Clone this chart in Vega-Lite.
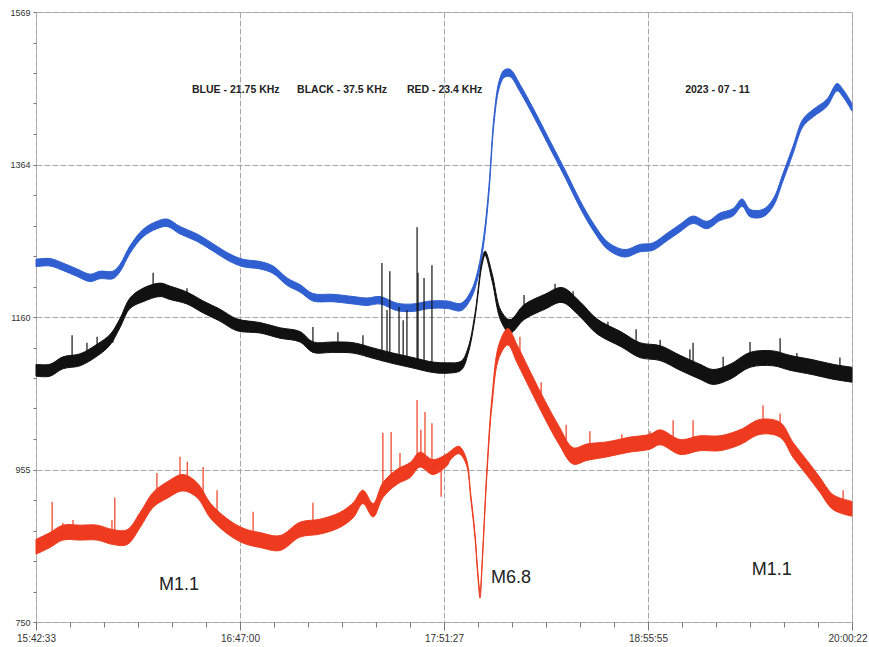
{
  "$schema": "https://vega.github.io/schema/vega-lite/v6.json",
  "width": 816,
  "height": 610,
  "autosize": {"type": "none"},
  "padding": {"left": 36, "top": 12, "right": 17, "bottom": 25},
  "background": "white",
  "config": {
    "view": {"stroke": "#bdbdbd", "strokeWidth": 1},
    "font": "Liberation Sans"
  },
  "datasets": {
    "blue": [
      {"t": 0, "lo": 1227, "hi": 1237}, {"t": 4.4, "lo": 1228, "hi": 1238}, {"t": 8.5, "lo": 1222, "hi": 1232},
      {"t": 13.0, "lo": 1214, "hi": 1224}, {"t": 17.1, "lo": 1207, "hi": 1217}, {"t": 20.2, "lo": 1211, "hi": 1221},
      {"t": 24.3, "lo": 1211, "hi": 1221}, {"t": 26.5, "lo": 1220, "hi": 1230}, {"t": 29.7, "lo": 1245, "hi": 1255},
      {"t": 33.8, "lo": 1267, "hi": 1277}, {"t": 38.2, "lo": 1278, "hi": 1288}, {"t": 41.4, "lo": 1281, "hi": 1291},
      {"t": 45.5, "lo": 1271, "hi": 1281}, {"t": 50.9, "lo": 1261, "hi": 1271}, {"t": 55.9, "lo": 1248, "hi": 1258},
      {"t": 61.3, "lo": 1234, "hi": 1244}, {"t": 65.4, "lo": 1227, "hi": 1237}, {"t": 70.8, "lo": 1224, "hi": 1234},
      {"t": 74.9, "lo": 1218, "hi": 1228}, {"t": 79.3, "lo": 1202, "hi": 1212}, {"t": 83.4, "lo": 1193, "hi": 1203},
      {"t": 87.5, "lo": 1181, "hi": 1191}, {"t": 93.8, "lo": 1180, "hi": 1190}, {"t": 100.2, "lo": 1177, "hi": 1187},
      {"t": 104.6, "lo": 1175, "hi": 1185}, {"t": 108.7, "lo": 1177, "hi": 1187}, {"t": 114.1, "lo": 1168, "hi": 1178},
      {"t": 119.1, "lo": 1167, "hi": 1177}, {"t": 124.5, "lo": 1171, "hi": 1181}, {"t": 129.9, "lo": 1171, "hi": 1181},
      {"t": 134.3, "lo": 1168, "hi": 1178}, {"t": 137.4, "lo": 1184, "hi": 1194}, {"t": 139.6, "lo": 1212, "hi": 1222},
      {"t": 141.5, "lo": 1259, "hi": 1269}, {"t": 143.1, "lo": 1325, "hi": 1335}, {"t": 144.7, "lo": 1419, "hi": 1429},
      {"t": 146.3, "lo": 1466, "hi": 1476}, {"t": 147.9, "lo": 1481, "hi": 1491}, {"t": 149.8, "lo": 1482, "hi": 1492},
      {"t": 152.9, "lo": 1462, "hi": 1472}, {"t": 157.3, "lo": 1428, "hi": 1438}, {"t": 163.0, "lo": 1381, "hi": 1391},
      {"t": 167.5, "lo": 1344, "hi": 1354}, {"t": 171.9, "lo": 1306, "hi": 1316}, {"t": 176.3, "lo": 1274, "hi": 1284},
      {"t": 180.7, "lo": 1250, "hi": 1260}, {"t": 186.1, "lo": 1240, "hi": 1250}, {"t": 190.8, "lo": 1247, "hi": 1257},
      {"t": 194.9, "lo": 1249, "hi": 1259}, {"t": 199.4, "lo": 1262, "hi": 1272}, {"t": 203.5, "lo": 1274, "hi": 1284},
      {"t": 207.6, "lo": 1285, "hi": 1295}, {"t": 212.0, "lo": 1278, "hi": 1288}, {"t": 216.1, "lo": 1289, "hi": 1299},
      {"t": 220.2, "lo": 1295, "hi": 1305}, {"t": 223.1, "lo": 1308, "hi": 1318}, {"t": 225.6, "lo": 1294, "hi": 1304},
      {"t": 229.7, "lo": 1294, "hi": 1304}, {"t": 232.9, "lo": 1308, "hi": 1318}, {"t": 236.0, "lo": 1342, "hi": 1352},
      {"t": 239.2, "lo": 1379, "hi": 1389}, {"t": 242.3, "lo": 1415, "hi": 1425}, {"t": 245.5, "lo": 1428, "hi": 1438},
      {"t": 249.9, "lo": 1442, "hi": 1452}, {"t": 253.1, "lo": 1463, "hi": 1473}, {"t": 255.0, "lo": 1455, "hi": 1465},
      {"t": 257.8, "lo": 1436, "hi": 1446}
    ],
    "black": [
      {"t": 0, "lo": 1080, "hi": 1096}, {"t": 4.4, "lo": 1080, "hi": 1096}, {"t": 8.5, "lo": 1090, "hi": 1106},
      {"t": 13.9, "lo": 1094, "hi": 1110}, {"t": 19.3, "lo": 1107, "hi": 1123}, {"t": 23.4, "lo": 1122, "hi": 1136},
      {"t": 26.5, "lo": 1145, "hi": 1157}, {"t": 29.7, "lo": 1171, "hi": 1185}, {"t": 33.8, "lo": 1180, "hi": 1198},
      {"t": 39.2, "lo": 1187, "hi": 1205}, {"t": 42.3, "lo": 1183, "hi": 1201}, {"t": 47.7, "lo": 1177, "hi": 1193},
      {"t": 52.8, "lo": 1165, "hi": 1181}, {"t": 58.1, "lo": 1154, "hi": 1170}, {"t": 63.5, "lo": 1141, "hi": 1157},
      {"t": 70.8, "lo": 1138, "hi": 1152}, {"t": 77.1, "lo": 1131, "hi": 1145}, {"t": 83.4, "lo": 1126, "hi": 1140},
      {"t": 87.5, "lo": 1112, "hi": 1126}, {"t": 93.8, "lo": 1112, "hi": 1126}, {"t": 100.2, "lo": 1111, "hi": 1125},
      {"t": 106.5, "lo": 1104, "hi": 1118}, {"t": 112.8, "lo": 1097, "hi": 1111}, {"t": 119.1, "lo": 1091, "hi": 1105},
      {"t": 125.4, "lo": 1085, "hi": 1099}, {"t": 129.9, "lo": 1084, "hi": 1098}, {"t": 134.3, "lo": 1088, "hi": 1100},
      {"t": 136.5, "lo": 1110, "hi": 1118}, {"t": 138.7, "lo": 1158, "hi": 1164}, {"t": 140.9, "lo": 1229, "hi": 1235},
      {"t": 141.9, "lo": 1242, "hi": 1248}, {"t": 144.1, "lo": 1208, "hi": 1218}, {"t": 146.9, "lo": 1154, "hi": 1168},
      {"t": 149.8, "lo": 1138, "hi": 1156}, {"t": 154.2, "lo": 1156, "hi": 1176}, {"t": 160.8, "lo": 1170, "hi": 1190},
      {"t": 166.2, "lo": 1179, "hi": 1199}, {"t": 171.9, "lo": 1160, "hi": 1180}, {"t": 177.2, "lo": 1137, "hi": 1157},
      {"t": 185.1, "lo": 1119, "hi": 1139}, {"t": 190.8, "lo": 1105, "hi": 1125}, {"t": 197.2, "lo": 1101, "hi": 1121},
      {"t": 203.5, "lo": 1088, "hi": 1108}, {"t": 209.8, "lo": 1076, "hi": 1096}, {"t": 213.9, "lo": 1069, "hi": 1089},
      {"t": 219.3, "lo": 1076, "hi": 1096}, {"t": 225.6, "lo": 1092, "hi": 1112}, {"t": 232.9, "lo": 1094, "hi": 1114},
      {"t": 238.2, "lo": 1088, "hi": 1108}, {"t": 245.5, "lo": 1082, "hi": 1102}, {"t": 251.8, "lo": 1076, "hi": 1096},
      {"t": 257.8, "lo": 1072, "hi": 1092}
    ],
    "red": [
      {"t": 0, "lo": 841, "hi": 861}, {"t": 4.4, "lo": 850, "hi": 870}, {"t": 8.5, "lo": 860, "hi": 880},
      {"t": 13.9, "lo": 860, "hi": 880}, {"t": 19.3, "lo": 860, "hi": 880}, {"t": 24.3, "lo": 854, "hi": 874},
      {"t": 28.8, "lo": 854, "hi": 874}, {"t": 32.9, "lo": 877, "hi": 897}, {"t": 37.0, "lo": 904, "hi": 924},
      {"t": 41.4, "lo": 916, "hi": 938}, {"t": 46.4, "lo": 926, "hi": 948}, {"t": 50.9, "lo": 917, "hi": 937},
      {"t": 55.0, "lo": 890, "hi": 910}, {"t": 59.1, "lo": 873, "hi": 893}, {"t": 63.5, "lo": 860, "hi": 880},
      {"t": 66.7, "lo": 854, "hi": 874}, {"t": 70.8, "lo": 850, "hi": 870}, {"t": 77.1, "lo": 846, "hi": 866},
      {"t": 83.4, "lo": 864, "hi": 884}, {"t": 89.7, "lo": 868, "hi": 888}, {"t": 96.0, "lo": 877, "hi": 897},
      {"t": 100.2, "lo": 890, "hi": 910}, {"t": 103.3, "lo": 909, "hi": 927}, {"t": 106.5, "lo": 891, "hi": 909},
      {"t": 109.6, "lo": 917, "hi": 937}, {"t": 114.1, "lo": 935, "hi": 955}, {"t": 118.2, "lo": 944, "hi": 964},
      {"t": 121.3, "lo": 958, "hi": 978}, {"t": 125.4, "lo": 948, "hi": 968}, {"t": 129.9, "lo": 960, "hi": 976},
      {"t": 130.8, "lo": 967, "hi": 979}, {"t": 133.6, "lo": 976, "hi": 986}, {"t": 135.9, "lo": 962, "hi": 970},
      {"t": 137.4, "lo": 914, "hi": 920}, {"t": 138.7, "lo": 863, "hi": 869}, {"t": 139.6, "lo": 811, "hi": 817},
      {"t": 140.3, "lo": 782, "hi": 790}, {"t": 140.9, "lo": 821, "hi": 827}, {"t": 142.5, "lo": 950, "hi": 958},
      {"t": 144.1, "lo": 1042, "hi": 1054}, {"t": 146.3, "lo": 1105, "hi": 1123}, {"t": 149.1, "lo": 1122, "hi": 1144},
      {"t": 152.0, "lo": 1098, "hi": 1122}, {"t": 156.4, "lo": 1060, "hi": 1084}, {"t": 160.8, "lo": 1023, "hi": 1047},
      {"t": 165.2, "lo": 989, "hi": 1013}, {"t": 169.7, "lo": 962, "hi": 984}, {"t": 174.1, "lo": 967, "hi": 989},
      {"t": 180.7, "lo": 972, "hi": 992}, {"t": 187.4, "lo": 978, "hi": 998}, {"t": 194.0, "lo": 982, "hi": 1002},
      {"t": 197.2, "lo": 988, "hi": 1008}, {"t": 203.5, "lo": 975, "hi": 995}, {"t": 209.8, "lo": 980, "hi": 1000},
      {"t": 216.1, "lo": 980, "hi": 1000}, {"t": 222.4, "lo": 988, "hi": 1008}, {"t": 228.8, "lo": 1002, "hi": 1022},
      {"t": 235.1, "lo": 998, "hi": 1018}, {"t": 239.2, "lo": 971, "hi": 991}, {"t": 243.6, "lo": 947, "hi": 967},
      {"t": 247.7, "lo": 924, "hi": 944}, {"t": 251.8, "lo": 901, "hi": 921}, {"t": 257.8, "lo": 892, "hi": 912}
    ],
    "spikes": [
      {"series": "black", "t": 109.3, "lo": 1100, "hi": 1232}, {"series": "black", "t": 110.9, "lo": 1100, "hi": 1169},
      {"series": "black", "t": 111.8, "lo": 1100, "hi": 1221}, {"series": "black", "t": 114.7, "lo": 1098, "hi": 1173},
      {"series": "black", "t": 116.0, "lo": 1098, "hi": 1155}, {"series": "black", "t": 117.2, "lo": 1097, "hi": 1169},
      {"series": "black", "t": 120.4, "lo": 1096, "hi": 1280}, {"series": "black", "t": 120.7, "lo": 1096, "hi": 1219},
      {"series": "black", "t": 122.6, "lo": 1094, "hi": 1212}, {"series": "black", "t": 125.1, "lo": 1093, "hi": 1229},
      {"series": "black", "t": 11.4, "lo": 1100, "hi": 1135}, {"series": "black", "t": 37.0, "lo": 1195, "hi": 1219},
      {"series": "black", "t": 16.1, "lo": 1108, "hi": 1125}, {"series": "black", "t": 19.3, "lo": 1115, "hi": 1133},
      {"series": "black", "t": 24.3, "lo": 1125, "hi": 1138}, {"series": "black", "t": 47.7, "lo": 1185, "hi": 1198},
      {"series": "black", "t": 57.2, "lo": 1160, "hi": 1173}, {"series": "black", "t": 87.5, "lo": 1119, "hi": 1146},
      {"series": "black", "t": 95.4, "lo": 1119, "hi": 1139}, {"series": "black", "t": 103.3, "lo": 1114, "hi": 1135},
      {"series": "black", "t": 154.2, "lo": 1166, "hi": 1189}, {"series": "black", "t": 164.0, "lo": 1185, "hi": 1204},
      {"series": "black", "t": 169.7, "lo": 1175, "hi": 1194}, {"series": "black", "t": 180.7, "lo": 1140, "hi": 1153},
      {"series": "black", "t": 189.6, "lo": 1120, "hi": 1143}, {"series": "black", "t": 197.2, "lo": 1111, "hi": 1129},
      {"series": "black", "t": 206.6, "lo": 1092, "hi": 1116}, {"series": "black", "t": 207.6, "lo": 1090, "hi": 1125},
      {"series": "black", "t": 217.1, "lo": 1083, "hi": 1106}, {"series": "black", "t": 225.6, "lo": 1102, "hi": 1126},
      {"series": "black", "t": 235.1, "lo": 1100, "hi": 1131}, {"series": "black", "t": 240.4, "lo": 1098, "hi": 1111},
      {"series": "black", "t": 254.0, "lo": 1085, "hi": 1105},
      {"series": "red", "t": 109.6, "lo": 925, "hi": 1004}, {"series": "red", "t": 112.2, "lo": 940, "hi": 1005},
      {"series": "red", "t": 120.4, "lo": 960, "hi": 1048}, {"series": "red", "t": 121.6, "lo": 965, "hi": 1008},
      {"series": "red", "t": 122.9, "lo": 960, "hi": 1032}, {"series": "red", "t": 125.1, "lo": 960, "hi": 1017},
      {"series": "red", "t": 128.0, "lo": 918, "hi": 965}, {"series": "red", "t": 5.1, "lo": 860, "hi": 911},
      {"series": "red", "t": 8.5, "lo": 870, "hi": 883}, {"series": "red", "t": 11.7, "lo": 870, "hi": 887},
      {"series": "red", "t": 17.1, "lo": 870, "hi": 880}, {"series": "red", "t": 24.0, "lo": 864, "hi": 887},
      {"series": "red", "t": 24.9, "lo": 864, "hi": 917}, {"series": "red", "t": 38.2, "lo": 914, "hi": 950},
      {"series": "red", "t": 45.5, "lo": 940, "hi": 972}, {"series": "red", "t": 47.8, "lo": 935, "hi": 965},
      {"series": "red", "t": 52.8, "lo": 920, "hi": 958}, {"series": "red", "t": 57.2, "lo": 895, "hi": 927},
      {"series": "red", "t": 68.6, "lo": 865, "hi": 898}, {"series": "red", "t": 87.5, "lo": 878, "hi": 910},
      {"series": "red", "t": 115.0, "lo": 948, "hi": 977}, {"series": "red", "t": 152.9, "lo": 1110, "hi": 1133},
      {"series": "red", "t": 159.6, "lo": 1045, "hi": 1072}, {"series": "red", "t": 167.5, "lo": 990, "hi": 1015},
      {"series": "red", "t": 175.0, "lo": 978, "hi": 1006}, {"series": "red", "t": 185.1, "lo": 985, "hi": 1002},
      {"series": "red", "t": 194.0, "lo": 992, "hi": 1006}, {"series": "red", "t": 201.3, "lo": 990, "hi": 1021},
      {"series": "red", "t": 207.6, "lo": 990, "hi": 1021}, {"series": "red", "t": 229.7, "lo": 1010, "hi": 1041},
      {"series": "red", "t": 235.1, "lo": 1008, "hi": 1030}, {"series": "red", "t": 249.9, "lo": 915, "hi": 931},
      {"series": "red", "t": 255.0, "lo": 905, "hi": 927}
    ],
    "header": [
      {"label": "BLUE - 21.75 KHz", "t": 49.3, "v": 1464},
      {"label": "BLACK - 37.5 KHz", "t": 82.5, "v": 1464},
      {"label": "RED - 23.4 KHz", "t": 117.2, "v": 1464},
      {"label": "2023 - 07 - 11", "t": 205.1, "v": 1464}
    ],
    "flares": [
      {"label": "M1.1", "t": 45.2, "v": 800},
      {"label": "M6.8", "t": 150.1, "v": 809},
      {"label": "M1.1", "t": 232.5, "v": 820}
    ]
  },
  "layer": [
    {
      "data": {"name": "blue"},
      "mark": {"type": "area", "color": "#2f5fd0", "stroke": "#2f5fd0", "strokeWidth": 1, "interpolate": "catmull-rom"},
      "encoding": {
        "x": {
          "field": "t", "type": "quantitative",
          "scale": {"domain": [0, 257.8167], "nice": false, "zero": false},
          "axis": {
            "title": null,
            "domain": false,
            "tickCount": 100,
            "values": [0, 10.74236, 21.48472, 32.22708, 42.96944, 53.7118, 64.45417, 75.19653, 85.93889, 96.68125, 107.42361, 118.16597, 128.90833, 139.65069, 150.39306, 161.13542, 171.87778, 182.62014, 193.3625, 204.10486, 214.84722, 225.58958, 236.33194, 247.07431, 257.8167],
            "grid": true,
            "gridColor": "#a8a8a8",
            "gridDash": [6, 2],
            "gridWidth": 1,
            "gridOpacity": {"condition": {"test": "abs(datum.value/64.45417 - round(datum.value/64.45417)) < 0.01", "value": 1}, "value": 0},
            "tickColor": "#777777",
            "tickSize": {"condition": {"test": "abs(datum.value/64.45417 - round(datum.value/64.45417)) < 0.01", "value": 8}, "value": 5},
            "labelExpr": "abs(datum.value/64.45417 - round(datum.value/64.45417)) < 0.01 ? ['15:42:33','16:47:00','17:51:27','18:55:55','20:00:22'][round(datum.value/64.45417)] : ''",
            "labelAlign": {"condition": {"test": "datum.value > 257", "value": "right"}, "value": "center"},
            "labelOffset": {"condition": {"test": "datum.value > 257", "value": 15}, "value": 0},
            "labelFont": "Liberation Sans",
            "labelFontSize": 10,
            "labelColor": "#333333",
            "labelPadding": 3,
            "labelOverlap": false,
            "labelFlush": false
          }
        },
        "y": {
          "field": "lo", "type": "quantitative",
          "scale": {"domain": [750, 1569], "nice": false, "zero": false},
          "axis": {
            "title": null,
            "domain": false,
            "tickCount": 100,
            "values": [750, 790.95, 831.9, 872.85, 913.8, 954.75, 995.7, 1036.65, 1077.6, 1118.55, 1159.5, 1200.45, 1241.4, 1282.35, 1323.3, 1364.25, 1405.2, 1446.15, 1487.1, 1528.05, 1569],
            "grid": true,
            "gridColor": "#a8a8a8",
            "gridDash": [6, 2],
            "gridWidth": 1,
            "gridOpacity": {"condition": {"test": "abs((datum.value-750)/204.75 - round((datum.value-750)/204.75)) < 0.01", "value": 1}, "value": 0},
            "tickColor": "#777777",
            "tickSize": 3,
            "labelExpr": "abs((datum.value-750)/204.75 - round((datum.value-750)/204.75)) < 0.01 ? format(round(datum.value), 'd') : ''",
            "labelFont": "Liberation Sans",
            "labelFontSize": 9,
            "labelColor": "#333333",
            "labelPadding": 3,
            "labelOverlap": false,
            "labelFlush": false
          }
        },
        "y2": {"field": "hi"}
      }
    },
    {
      "data": {"name": "black"},
      "mark": {"type": "area", "color": "#111111", "stroke": "#111111", "strokeWidth": 1, "interpolate": "catmull-rom"},
      "encoding": {
        "x": {"field": "t", "type": "quantitative"},
        "y": {"field": "lo", "type": "quantitative"},
        "y2": {"field": "hi"}
      }
    },
    {
      "data": {"name": "red"},
      "mark": {"type": "area", "color": "#ee3b1f", "stroke": "#ee3b1f", "strokeWidth": 1, "interpolate": "catmull-rom"},
      "encoding": {
        "x": {"field": "t", "type": "quantitative"},
        "y": {"field": "lo", "type": "quantitative"},
        "y2": {"field": "hi"}
      }
    },
    {
      "data": {"name": "spikes"},
      "mark": {"type": "rule", "strokeWidth": 1.2},
      "encoding": {
        "x": {"field": "t", "type": "quantitative"},
        "y": {"field": "lo", "type": "quantitative"},
        "y2": {"field": "hi"},
        "color": {"field": "series", "type": "nominal", "scale": {"domain": ["black", "red"], "range": ["#111111", "#ee3b1f"]}, "legend": null}
      }
    },
    {
      "data": {"name": "header"},
      "mark": {"type": "text", "align": "left", "baseline": "middle", "fontWeight": "bold", "fontSize": 10.5, "font": "Liberation Sans", "color": "#222222"},
      "encoding": {
        "x": {"field": "t", "type": "quantitative"},
        "y": {"field": "v", "type": "quantitative"},
        "text": {"field": "label"}
      }
    },
    {
      "data": {"name": "flares"},
      "mark": {"type": "text", "align": "center", "baseline": "middle", "fontSize": 18, "font": "Liberation Sans", "color": "#222222"},
      "encoding": {
        "x": {"field": "t", "type": "quantitative"},
        "y": {"field": "v", "type": "quantitative"},
        "text": {"field": "label"}
      }
    }
  ]
}
